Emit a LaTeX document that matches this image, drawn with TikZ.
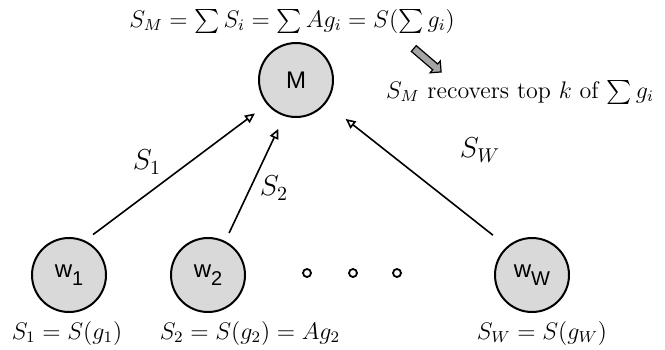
\documentclass[tikz,border=0pt]{standalone}
\usepackage{amsmath,amssymb}
\usepackage{fontspec}
\usepackage{tikz}
\usetikzlibrary{arrows.meta,positioning,shapes.arrows}
\newfontfamily\helvfont{Liberation Sans}
\definecolor{nodogris}{RGB}{217,217,217}
\definecolor{flechagris}{RGB}{165,165,165}

\begin{document}
\begin{tikzpicture}[x=0.5pt,y=-0.5pt,
  nodo/.style={circle,draw,line width=1pt,fill=nodogris,minimum size=37pt,
               inner sep=0pt,font=\helvfont\large},
  ar/.style={-{Triangle[open,length=5pt,width=4.5pt]},line width=0.8pt},
  punto/.style={circle,draw,line width=0.9pt,inner sep=0pt,minimum size=4pt},
  etiq/.style={font=\Large},
  pie/.style={font=\large}
]
\useasboundingbox (0,0) rectangle (665,349);

% master and workers
\node[nodo] (M)  at (296,80)  {M};
\node[nodo] (w1) at (69,275)  {w\raisebox{-0.6ex}{\normalsize 1}};
\node[nodo] (w2) at (208,275) {w\raisebox{-0.6ex}{\normalsize 2}};
\node[nodo] (wW) at (532,275) {w\raisebox{-0.6ex}{\normalsize W}};
\foreach \x [count=\i] in {307,353,397}
  \node[punto] (d\i) at (\x,273) {};

% sketches sent up
\draw[ar,shorten <=5pt,shorten >=7.5pt]  (w1.65)  -- (M.220);
\draw[ar,shorten <=4.5pt,shorten >=7pt]  (w2.63)  -- (M.252);
\draw[ar,shorten <=9pt,shorten >=12.5pt] (wW.131) -- (M.322);
\node[etiq] (s1) at (147,162) {$S_1$};
\node[etiq] (s2) at (274,188) {$S_2$};
\node[etiq] (sW) at (480,150) {$S_W$};

% formulas
\node[pie] (l1) at (67,333)  {$S_1 = S(g_1)$};
\node[pie] (l2) at (250,333) {$S_2 = S(g_2) = Ag_2$};
\node[pie] (lW) at (542,333) {$S_W = S(g_W)$};
\node[pie] (suma) at (292,21) {$S_M = \sum S_i = \sum Ag_i = S(\sum g_i)$};
\node[single arrow,draw,fill=flechagris,line width=0.6pt,minimum height=18pt,
      single arrow head extend=2pt,inner sep=1.6pt,rotate=-40.6] (flecha) at (426,59) {};
\node[pie] (recupera) at (520,92) {$S_M$ recovers top $k$ of $\sum g_i$};
\end{tikzpicture}
\end{document}
